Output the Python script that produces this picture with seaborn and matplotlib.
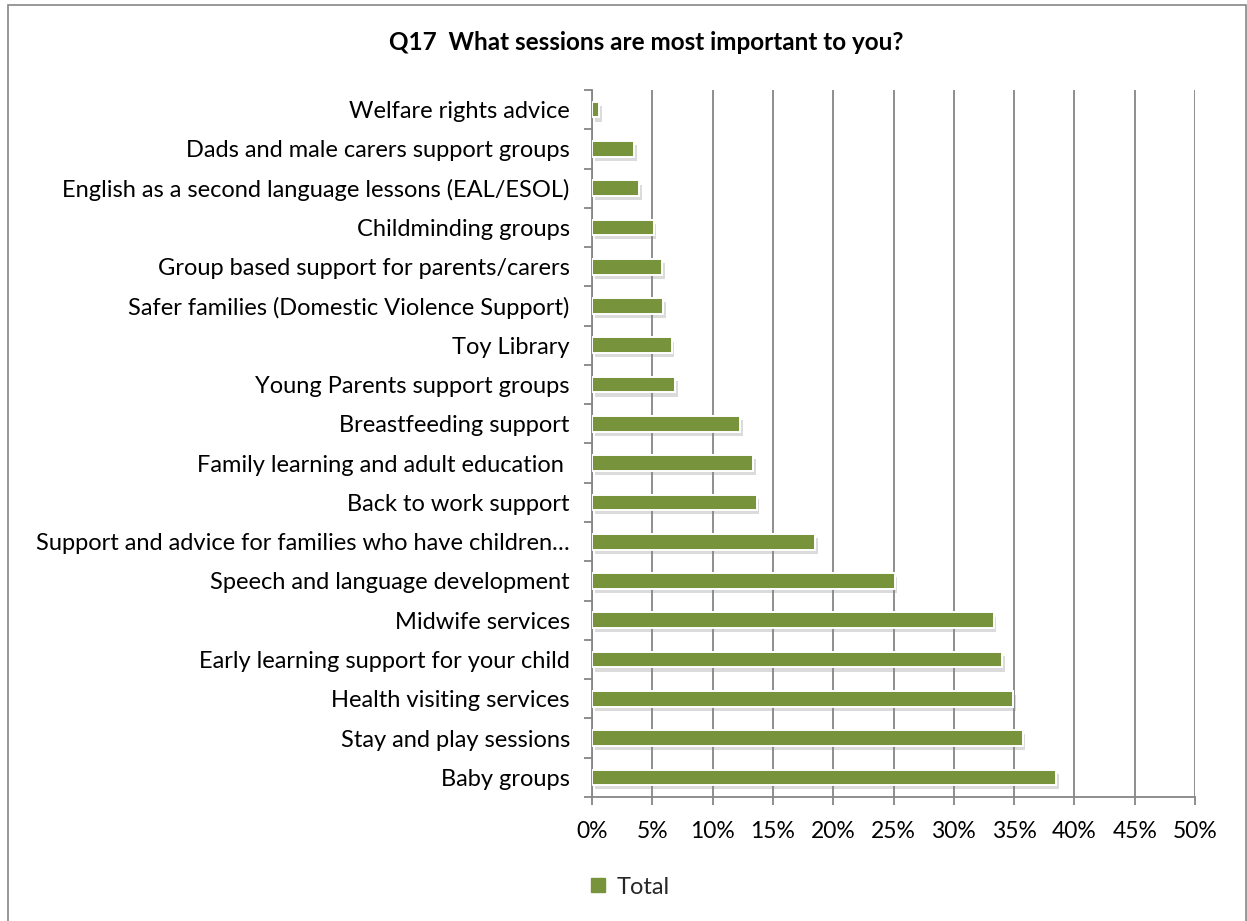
import matplotlib
matplotlib.use("Agg")
import matplotlib.pyplot as plt
import matplotlib.patheffects as pe
from matplotlib.lines import Line2D
from matplotlib.patches import Rectangle
from matplotlib.ticker import FixedLocator, PercentFormatter
import numpy as np
import pandas as pd
import seaborn as sns

# Survey answers, top to bottom as listed on the chart
sessions = [
    "Welfare rights advice",
    "Dads and male carers support groups",
    "English as a second language lessons (EAL/ESOL)",
    "Childminding groups",
    "Group based support for parents/carers",
    "Safer families (Domestic Violence Support)",
    "Toy Library",
    "Young Parents support groups",
    "Breastfeeding support",
    "Family learning and adult education ",
    "Back to work support",
    "Support and advice for families who have children\u2026",
    "Speech and language development",
    "Midwife services",
    "Early learning support for your child",
    "Health visiting services",
    "Stay and play sessions",
    "Baby groups",
]
share_pct = [0.6, 3.5, 3.9, 5.1, 5.8, 5.9, 6.6, 6.9, 12.3, 13.35, 13.65,
             18.5, 25.1, 33.3, 34.0, 34.9, 35.7, 38.5]
x_ticks_pct = [0, 5, 10, 15, 20, 25, 30, 35, 40, 45, 50]
series_name = "Total"

df = pd.DataFrame({"session": sessions, "share": share_pct})

sns.set_theme(style="white")
plt.rcParams["font.family"] = ["Lato", "DejaVu Sans"]

GREEN = "#77933C"
GRID = "#868686"
W, H = 1247, 921

fig = plt.figure(figsize=(W / 100, H / 100), dpi=100)
ax = fig.add_axes([592 / W, 1 - 797 / H, (1195 - 592) / W, (797 - 90) / H])

sns.barplot(data=df, x="share", y="session", order=sessions, color=GREEN,
            saturation=1, width=0.40, edgecolor="white", linewidth=1.4,
            ax=ax, zorder=3)

shadow = [pe.SimplePatchShadow(offset=(2, -3), shadow_rgbFace="#8a8a8a", alpha=0.3),
          pe.Normal()]
for p in ax.patches:
    p.set_path_effects(shadow)

ax.set_xlim(0, 50)
ax.set_ylim(len(sessions) - 0.5, -0.5)
ax.xaxis.set_major_locator(FixedLocator(x_ticks_pct))
ax.xaxis.set_major_formatter(PercentFormatter(decimals=0))
ax.set_xlabel("")
ax.set_ylabel("")

# vertical gridlines
ax.grid(axis="x", color=GRID, linewidth=1.3, zorder=0)
ax.grid(axis="y", visible=False)
ax.set_axisbelow(True)

for side in ("top", "right"):
    ax.spines[side].set_visible(False)
for side in ("left", "bottom"):
    ax.spines[side].set_color(GRID)
    ax.spines[side].set_linewidth(1.3)

# category boundary tick marks on the y axis, plain labels at centres
ax.yaxis.set_minor_locator(FixedLocator(np.arange(-0.5, len(sessions), 1.0)))
ax.tick_params(axis="y", which="major", length=0, pad=16, labelsize=17,
               labelcolor="#000000")
ax.tick_params(axis="y", which="minor", left=True, length=6, width=1.3,
               color=GRID, direction="out")
ax.tick_params(axis="x", which="major", bottom=True, length=6, width=1.3,
               color=GRID, direction="out", pad=11, labelsize=16.5,
               labelcolor="#000000")

fig.text(646 / W, 1 - 43 / H, "Q17  What sessions are most important to you?",
         ha="center", va="center", fontsize=17.5, fontweight="bold", color="#000000")

handle = Line2D([], [], linestyle="none", marker="s", markersize=9.5,
                markerfacecolor=GREEN, markeredgecolor=GREEN)
fig.legend([handle], [series_name], loc="center left",
           bbox_to_anchor=(589 / W, 1 - 887 / H), frameon=False,
           fontsize=17, handlelength=0.8, handletextpad=0.35,
           borderaxespad=0, borderpad=0)

# chart area border
fig.add_artist(Rectangle((8 / W, -0.05), (1246 - 8) / W, 1.05 - 5 / H,
                         transform=fig.transFigure, fill=False,
                         edgecolor=GRID, linewidth=1.2))

fig.savefig("out.png", dpi=100, facecolor="white")
